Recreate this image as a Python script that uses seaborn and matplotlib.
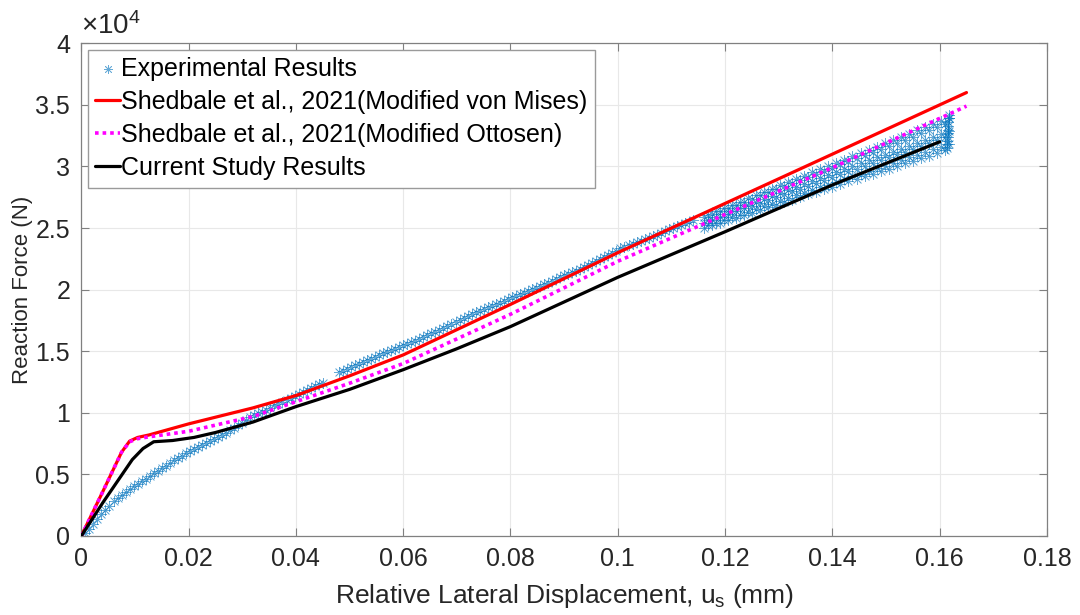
import matplotlib
matplotlib.use("Agg")
import matplotlib.pyplot as plt
from matplotlib.ticker import FuncFormatter, MultipleLocator
import seaborn as sns

# Experimental reaction force (N) vs relative lateral displacement (mm), loading branch
exp_x = [0, 0.00075, 0.0015, 0.00225, 0.003, 0.00375, 0.0045, 0.00525, 0.006, 0.00675,
         0.0075, 0.00825, 0.009, 0.00975, 0.0105, 0.01125, 0.012, 0.01275, 0.0135, 0.01425,
         0.015, 0.01575, 0.0165, 0.01725, 0.018, 0.01875, 0.0195, 0.02025, 0.021, 0.02175,
         0.0225, 0.02325, 0.024, 0.02475, 0.0255, 0.02625, 0.027, 0.02775, 0.0285, 0.02925,
         0.03, 0.03075, 0.0315, 0.03225, 0.033, 0.03375, 0.0345, 0.03525, 0.036, 0.03675,
         0.0375, 0.03825, 0.039, 0.03975, 0.0405, 0.04125, 0.042, 0.04275, 0.0435, 0.04425,
         0.045, 0.048, 0.04875, 0.0495, 0.05025, 0.051, 0.05175, 0.0525, 0.05325, 0.054,
         0.05475, 0.0555, 0.05625, 0.057, 0.05775, 0.0585, 0.05925, 0.06, 0.06075, 0.0615,
         0.06225, 0.063, 0.06375, 0.0645, 0.06525, 0.066, 0.06675, 0.0675, 0.06825, 0.069,
         0.06975, 0.0705, 0.07125, 0.072, 0.07275, 0.0735, 0.07425, 0.075, 0.07575, 0.0765,
         0.07725, 0.078, 0.07875, 0.0795, 0.08025, 0.081, 0.08175, 0.0825, 0.08325, 0.084,
         0.08475, 0.0855, 0.08625, 0.087, 0.08775, 0.0885, 0.08925, 0.09, 0.09075, 0.0915,
         0.09225, 0.093, 0.09375, 0.0945, 0.09525, 0.096, 0.09675, 0.0975, 0.09825, 0.099,
         0.09975, 0.1005, 0.10125, 0.102, 0.10275, 0.1035, 0.10425, 0.105, 0.10575, 0.1065,
         0.10725, 0.108, 0.10875, 0.1095, 0.11025, 0.111, 0.11175, 0.1125, 0.11325, 0.114]
exp_y = [0, 250, 600, 1000, 1400, 1750, 2100, 2450, 2800, 3050,
         3300, 3550, 3800, 4030, 4250, 4450, 4650, 4880, 5100, 5300,
         5500, 5700, 5900, 6130, 6350, 6520, 6700, 6900, 7100, 7250,
         7400, 7550, 7700, 7880, 8050, 8220, 8400, 8600, 8800, 9000,
         9200, 9420, 9650, 9800, 9950, 10100, 10250, 10420, 10600, 10750,
         10900, 11050, 11200, 11350, 11500, 11680, 11850, 12000, 12150, 12300,
         12450, 13300, 13420, 13550, 13700, 13850, 13970, 14100, 14250, 14400,
         14550, 14700, 14820, 14950, 15070, 15200, 15350, 15500, 15620, 15750,
         15870, 16000, 16150, 16300, 16450, 16600, 16750, 16900, 17050, 17200,
         17350, 17500, 17680, 17850, 18000, 18150, 18300, 18450, 18570, 18700,
         18820, 18950, 19100, 19250, 19370, 19500, 19620, 19750, 19900, 20050,
         20170, 20300, 20420, 20550, 20700, 20850, 21000, 21150, 21270, 21400,
         21550, 21700, 21850, 22000, 22170, 22350, 22500, 22650, 22820, 23000,
         23170, 23350, 23470, 23600, 23720, 23850, 23970, 24100, 24220, 24350,
         24470, 24600, 24750, 24900, 25020, 25150, 25270, 25400, 25520, 25650]

# Cyclic part of the test: repeated passes over the last displacement range
band_x_a = [0.116, 0.1175, 0.119, 0.1205, 0.122, 0.1235, 0.125, 0.1265, 0.128, 0.1295,
            0.131, 0.1325, 0.134, 0.1355, 0.137, 0.1385, 0.14, 0.1415, 0.143, 0.1445,
            0.146, 0.1475, 0.149, 0.1505, 0.152, 0.1535, 0.155, 0.1565, 0.158, 0.1595,
            0.161]
band_x_b = [0.11675, 0.11825, 0.11975, 0.12125, 0.12275, 0.12425, 0.12575, 0.12725,
            0.12875, 0.13025, 0.13175, 0.13325, 0.13475, 0.13625, 0.13775, 0.13925,
            0.14075, 0.14225, 0.14375, 0.14525, 0.14675, 0.14825, 0.14975, 0.15125,
            0.15275, 0.15425, 0.15575, 0.15725, 0.15875, 0.16025, 0.16175]
pass_1 = [25000, 25210, 25420, 25630, 25840, 26050, 26260, 26470, 26680, 26890,
          27100, 27310, 27520, 27730, 27940, 28150, 28360, 28570, 28780, 28990,
          29200, 29410, 29620, 29830, 30040, 30250, 30460, 30670, 30880, 31090, 31300]
pass_2 = [25220, 25440, 25660, 25880, 26100, 26320, 26540, 26760, 26980, 27200,
          27425, 27645, 27865, 28085, 28305, 28525, 28750, 28970, 29190, 29410,
          29630, 29850, 30070, 30290, 30510, 30730, 30955, 31175, 31395, 31615, 31835]
pass_3 = [25440, 25670, 25900, 26130, 26365, 26595, 26825, 27055, 27290, 27520,
          27750, 27980, 28210, 28445, 28675, 28905, 29135, 29370, 29600, 29830,
          30060, 30290, 30520, 30755, 30985, 31215, 31445, 31680, 31910, 32140, 32370]
pass_4 = [25660, 25900, 26145, 26385, 26625, 26870, 27110, 27350, 27590, 27835,
          28075, 28315, 28560, 28800, 29040, 29280, 29525, 29765, 30005, 30250,
          30490, 30730, 30970, 31215, 31455, 31695, 31940, 32180, 32420, 32665, 32905]
pass_5 = [25880, 26130, 26385, 26635, 26890, 27140, 27390, 27645, 27895, 28150,
          28400, 28650, 28905, 29155, 29410, 29660, 29910, 30165, 30415, 30670,
          30920, 31170, 31425, 31675, 31930, 32180, 32430, 32685, 32935, 33190, 33440]
pass_6 = [26100, 26365, 26625, 26890, 27150, 27415, 27675, 27940, 28200, 28465,
          28725, 28990, 29250, 29515, 29775, 30040, 30300, 30565, 30825, 31090,
          31350, 31615, 31875, 32140, 32400, 32665, 32925, 33190, 33450, 33715, 33975]
unload_x = [0.1617, 0.1617, 0.1616, 0.1616, 0.1616, 0.1615, 0.1615, 0.1614, 0.1614, 0.1614]
unload_y = [34200, 33900, 33600, 33300, 33000, 32700, 32400, 32100, 31800, 31500]

# Shedbale et al., 2021 (Modified von Mises)
mises_x = [0, 0.004, 0.0075, 0.009, 0.0105, 0.0126, 0.02, 0.032, 0.04, 0.05,
           0.06, 0.08, 0.1, 0.12, 0.14, 0.16, 0.165]
mises_y = [0, 3600, 6800, 7700, 8000, 8200, 9100, 10400, 11400, 13000,
           14700, 18800, 23000, 27000, 31000, 35000, 36000]

# Shedbale et al., 2021 (Modified Ottosen)
ottosen_x = [0, 0.004, 0.0075, 0.009, 0.0105, 0.0126, 0.02, 0.032, 0.04, 0.05,
             0.06, 0.08, 0.1, 0.12, 0.14, 0.16, 0.165]
ottosen_y = [0, 3600, 6800, 7650, 7900, 8050, 8500, 9700, 10900, 12400,
             14000, 18000, 22300, 26100, 29900, 33900, 34900]

# Current study
current_x = [0, 0.004, 0.0095, 0.0115, 0.0135, 0.017, 0.021, 0.025, 0.032, 0.04,
             0.05, 0.06, 0.07, 0.08, 0.09, 0.1, 0.12, 0.14, 0.16]
current_y = [0, 2700, 6200, 7100, 7650, 7750, 8000, 8400, 9250, 10500,
             11900, 13500, 15200, 17000, 19000, 21000, 24700, 28500, 32000]

x_ticks = [0, 0.02, 0.04, 0.06, 0.08, 0.1, 0.12, 0.14, 0.16, 0.18]

sns.set_theme(style="white")
plt.rcParams["font.family"] = ["Liberation Sans", "DejaVu Sans"]
plt.rcParams["mathtext.fontset"] = "custom"
plt.rcParams["mathtext.rm"] = "Liberation Sans"
plt.rcParams["mathtext.it"] = "Liberation Sans:italic"
plt.rcParams["mathtext.default"] = "regular"

fig = plt.figure(figsize=(10.8, 6.15), dpi=100)
ax = fig.add_axes([0.0753, 0.1285, 0.8941, 0.8011])

exp_color = "#0072BD"
star = (8, 2, 0)
all_x = (exp_x + band_x_a + band_x_b + band_x_a + band_x_b + band_x_a + band_x_b
         + unload_x)
all_y = (exp_y + pass_1 + pass_2 + pass_3 + pass_4 + pass_5 + pass_6 + unload_y)
sns.scatterplot(x=all_x, y=all_y, ax=ax, marker=star, s=55, color=exp_color,
                linewidth=0.55, alpha=0.6, label="Experimental Results", zorder=2)

sns.lineplot(x=mises_x, y=mises_y, ax=ax, color="#FF0000", linewidth=2.3,
             sort=False, estimator=None,
             label="Shedbale et al., 2021(Modified von Mises)", zorder=3)
sns.lineplot(x=ottosen_x, y=ottosen_y, ax=ax, color="#FF00FF", linewidth=2.6,
             linestyle=(0, (1, 1.1)), sort=False, estimator=None,
             label="Shedbale et al., 2021(Modified Ottosen)", zorder=4)
sns.lineplot(x=current_x, y=current_y, ax=ax, color="#000000", linewidth=2.3,
             sort=False, estimator=None,
             label="Current Study Results", zorder=5)

ax.set_xlim(0, 0.18)
ax.set_ylim(0, 40000)
ax.set_xticks(x_ticks)
ax.xaxis.set_major_formatter(FuncFormatter(lambda v, p: f"{v:g}"))
ax.yaxis.set_major_locator(MultipleLocator(5000))
ax.yaxis.set_major_formatter(FuncFormatter(lambda v, p: f"{v / 1e4:g}"))

ax.grid(True, color="#e8e8e8", linewidth=0.8)
ax.set_axisbelow(True)
for sp in ax.spines.values():
    sp.set_visible(True)
    sp.set_color("#808080")
    sp.set_linewidth(0.9)
ax.tick_params(axis="both", which="major", direction="in", length=6, width=0.8,
               color="#808080", labelsize=18, labelcolor="#262626",
               top=True, right=True, bottom=True, left=True, pad=8)

ax.set_xlabel("Relative Lateral Displacement, u$_s$ (mm)", fontsize=19,
              color="#262626")
ax.xaxis.set_label_coords(0.5, -0.093)
ax.set_ylabel("Reaction Force (N)", fontsize=16, color="#262626")
ax.yaxis.set_label_coords(-0.050, 0.5)
ax.text(0.0, 1.006, r"$\times10^{4}$", transform=ax.transAxes, fontsize=20,
        color="#262626", ha="left", va="bottom")

leg = ax.legend(loc="upper left", fontsize=18, frameon=True, fancybox=False,
                framealpha=1, edgecolor="#9a9a9a", handlelength=1.0,
                handletextpad=0.05, labelspacing=0.36, borderpad=0.3,
                borderaxespad=0.25, markerscale=0.8)
leg.get_frame().set_linewidth(1.0)
for t in leg.get_texts():
    t.set_color("#000000")

fig.savefig("out.png", dpi=100)
